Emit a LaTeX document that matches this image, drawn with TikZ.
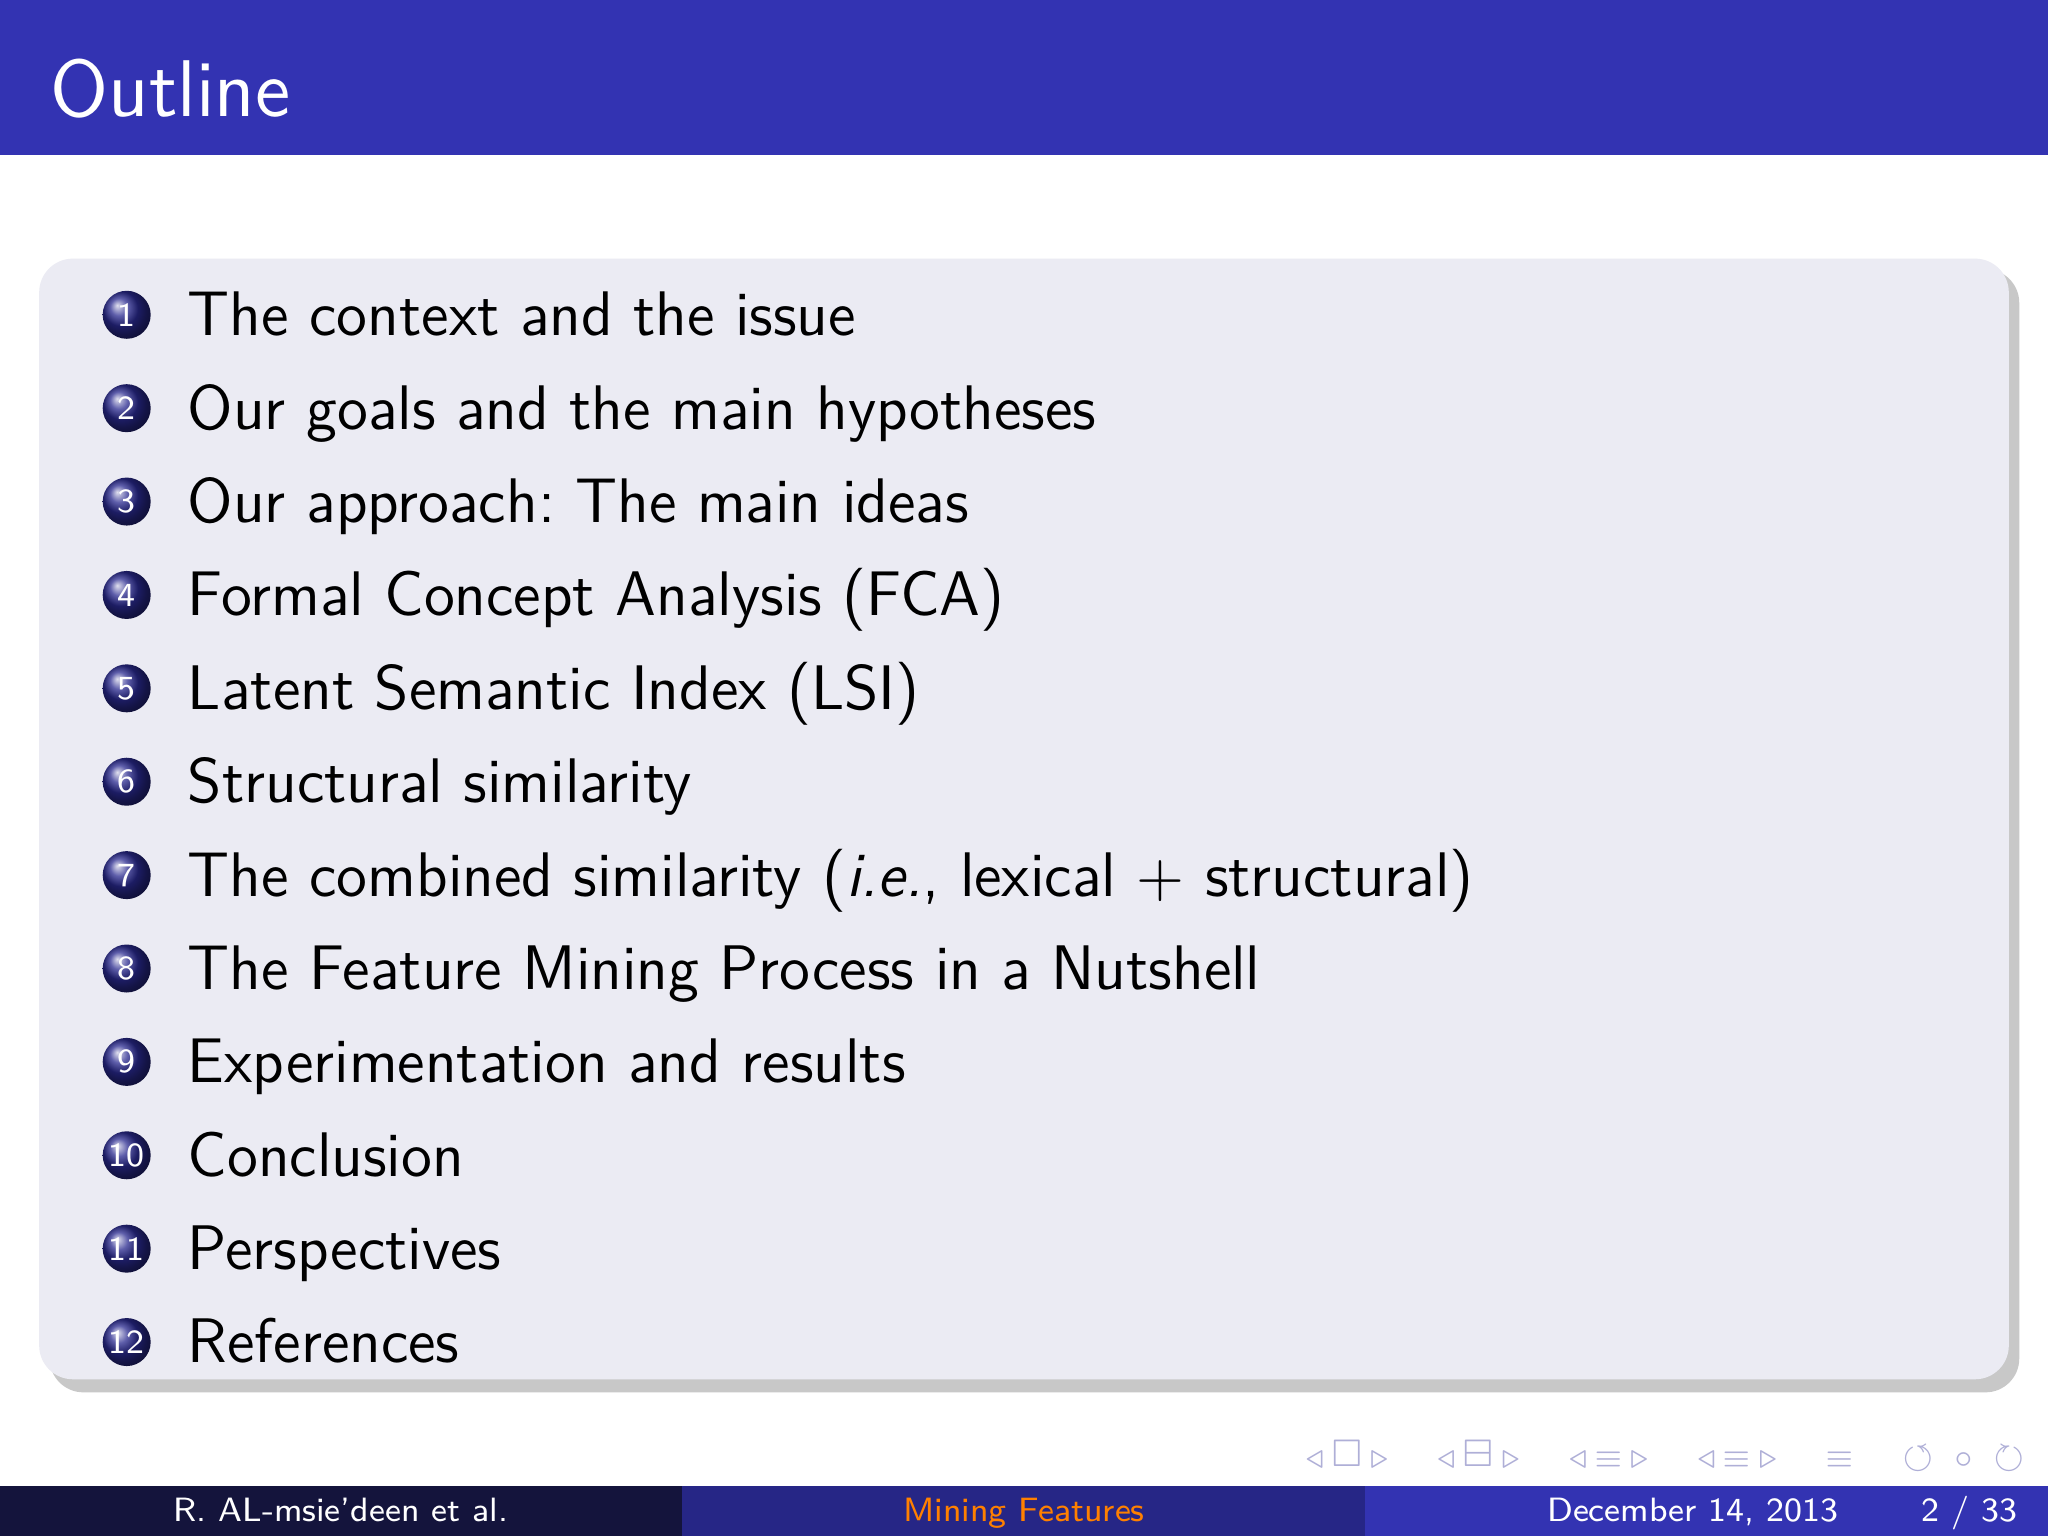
\documentclass[tikz,border=0pt]{standalone}
\usepackage{amssymb}
\usepackage{fontspec}
\usetikzlibrary{shadows}
\definecolor{hdr}{RGB}{51,51,178}
\definecolor{fl}{RGB}{20,20,60}
\definecolor{fm}{RGB}{38,38,134}
\definecolor{fr}{RGB}{51,51,178}
\definecolor{blk}{RGB}{235,235,243}
\definecolor{navc}{RGB}{175,175,215}
\tikzset{ball/.style={circle,inner sep=0pt,minimum size=0.30cm,ball color=hdr!80!black,text=white,font=\sffamily\fontsize{6}{6}\selectfont},
item/.style={anchor=base west,inner sep=0pt,font=\sffamily\fontsize{11.2}{13}\selectfont},
foot/.style={font=\sffamily\fontsize{6}{7}\selectfont,inner sep=0pt},
nav/.style={text=navc,font=\fontsize{5.5}{5.5}\selectfont,inner sep=0pt}}
\begin{document}
\begin{tikzpicture}[x=0.008163cm,y=-0.008163cm]
\useasboundingbox (0,0) rectangle (1568,1176);
\fill[white] (0,0) rectangle (1568,1176);
\fill[hdr] (0,0) rectangle (1568,119);
\node[anchor=base west,text=white,font=\sffamily\fontsize{14.3}{17}\selectfont,inner sep=0pt] (title) at (38,89) {Outline};
\fill[black!30,opacity=0.7,rounded corners=6pt] (38,206) rectangle (1546,1066);
\fill[blk,rounded corners=6pt] (30,198) rectangle (1538,1056);
\foreach \n/\t [count=\i] in {1/The context and the issue,2/Our goals and the main hypotheses,3/{Our approach:\ The main ideas},4/Formal Concept Analysis (FCA),5/Latent Semantic Index (LSI),6/Structural similarity,7/{The combined similarity (\textit{i.e.}, lexical $+$ structural)},8/The Feature Mining Process in a Nutshell,9/Experimentation and results,10/Conclusion,11/Perspectives,12/References}{
  \node[ball] (b\n) at (97,{241+71.5*(\i-1)}) {\n};
  \node[item] (t\n) at (143,{257+71.5*(\i-1)}) {\t};
}
\fill[fl] (0,1138) rectangle (522,1176);
\fill[fm] (522,1138) rectangle (1045,1176);
\fill[fr] (1045,1138) rectangle (1568,1176);
\node[foot,text=white,anchor=base] (fa) at (261,1165) {R. AL-msie'deen et al.};
\node[foot,text=orange,anchor=base] (ft) at (784,1165) {Mining Features};
\node[foot,text=white,anchor=base] (fd) at (1296,1165) {December 14, 2013};
\node[foot,text=white,anchor=base] (fp) at (1508,1165) {2 / 33};
\node[nav,anchor=east] (n1) at (1552,1115) {$\triangleleft$\,$\square$\,$\triangleright$\quad\enspace$\triangleleft$\,$\boxminus$\,$\triangleright$\quad\enspace$\triangleleft$\,$\equiv$\,$\triangleright$\quad\enspace$\triangleleft$\,$\equiv$\,$\triangleright$\quad\enspace$\equiv$\quad\enspace$\circlearrowleft\,\circ\,\circlearrowright$};
\end{tikzpicture}
\end{document}
